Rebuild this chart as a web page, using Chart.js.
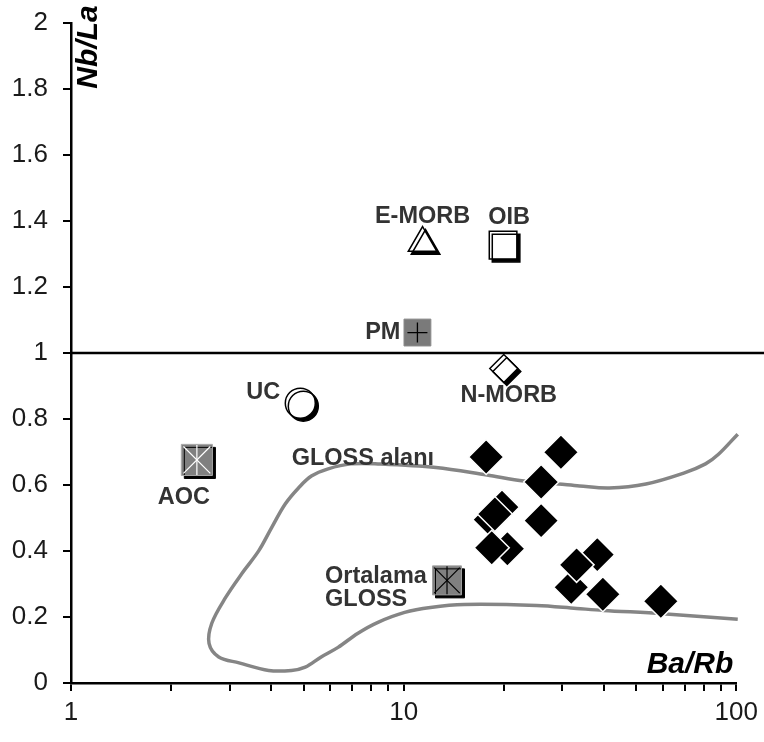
<!DOCTYPE html>
<html><head><meta charset="utf-8">
<script src="https://cdn.jsdelivr.net/npm/chart.js@4/dist/chart.umd.min.js"></script>
<style>html,body{margin:0;padding:0;background:#fff}</style>
</head><body>
<canvas id="c" width="764" height="742"></canvas>
<script>
// ---- data ----
const xTickValues = [1,2,3,4,5,6,7,8,9,10,20,30,40,50,60,70,80,90,100];
const xTickLabels = [1, 10, 100];
const yTickStep = 0.2;

// samples (black diamonds): Ba/Rb, Nb/La
const sampleX = [17.7, 29.7, 25.9, 19.75, 18.2, 18.8, 25.9, 20.5, 18.4, 38.2, 31.9, 33.1, 39.7, 59.3];
const sampleY = [0.685, 0.699, 0.609, 0.533, 0.495, 0.512, 0.492, 0.407, 0.410, 0.389, 0.290, 0.358, 0.269, 0.248];

// reference reservoirs
const refNames = ['E-MORB', 'OIB', 'PM', 'N-MORB', 'UC', 'AOC', 'Ortalama GLOSS'];
const refX = [11.4, 19.9, 11.0, 20.0, 4.89, 2.39, 13.5];
const refY = [1.333, 1.327, 1.062, 0.953, 0.848, 0.676, 0.311];

// GLOSS field outline
const glossX = [101, 88.4, 80.8, 69.5, 53.5, 41.5, 33.8, 29.2, 23.0, 17.8, 12.5, 8.37, 6.95, 5.93, 5.28, 4.83, 4.41, 4.01, 3.67, 3.26, 2.92, 2.65, 2.60, 2.78, 3.20, 3.93, 4.60, 5.06, 5.65, 6.35, 7.29, 8.37, 10.07, 12.04, 15.2, 25.1, 33.1, 39.8, 60.1, 101];
const glossY = [0.754, 0.693, 0.664, 0.636, 0.603, 0.591, 0.597, 0.603, 0.612, 0.630, 0.653, 0.664, 0.664, 0.649, 0.627, 0.591, 0.543, 0.471, 0.401, 0.331, 0.260, 0.181, 0.120, 0.079, 0.061, 0.038, 0.038, 0.048, 0.079, 0.108, 0.151, 0.184, 0.214, 0.229, 0.238, 0.235, 0.226, 0.220, 0.210, 0.193];
const glossLabel = {text: 'GLOSS alanı', x: 7.54, y: 0.681};

// Nb/La = 1 reference line
const unityX = [1, 130];
const unityY = [1, 1];

// ---- build ----
const FONT = "'Liberation Sans', Arial, Helvetica, sans-serif";
const pts = (xs, ys) => xs.map((v, i) => ({x: v, y: ys[i]}));
const refPt = i => [{x: refX[i], y: refY[i]}];

function marker(i, style, extra) {
  return Object.assign({
    type: 'scatter', data: refPt(i), pointStyle: style,
    pointBackgroundColor: '#fff', pointBorderColor: '#000', pointBorderWidth: 1.5,
    order: 1, clip: false
  }, extra);
}

const datasets = [
  {type: 'line', data: pts(unityX, unityY), borderColor: '#000', borderWidth: 2.5, pointRadius: 0, clip: false, order: 10},
  {type: 'line', data: pts(glossX, glossY), borderColor: '#858585', borderWidth: 3.5, pointRadius: 0, tension: 0.35, clip: false, order: 9},
  // E-MORB
  marker(0, 'triangle', {pointRadius: 16.5, shadow: true}),
  // OIB
  marker(1, 'rect', {pointRadius: 19.5, shadow: true}),
  // PM
  marker(2, 'rect', {pointRadius: 19, pointBackgroundColor: '#7a7a7a', pointBorderColor: '#8c8c8c', pointBorderWidth: 1}),
  marker(2, 'cross', {pointRadius: 10, pointBorderColor: '#000', pointBorderWidth: 1.3, order: 0}),
  // N-MORB
  marker(3, 'rectRot', {pointRadius: 14, shadow: true}),
  // UC
  marker(4, 'circle', {pointRadius: 15, shadow: true}),
  // AOC
  marker(5, 'rect', {pointRadius: 22, pointBackgroundColor: '#808080', pointBorderColor: '#a8a8a8', pointBorderWidth: 1, shadow: true}),
  marker(5, 'crossRot', {pointRadius: 19, pointBorderColor: '#fff', pointBorderWidth: 1.2, order: 0}),
  marker(5, 'line', {pointRadius: 15, pointRotation: 90, pointBorderColor: '#fff', pointBorderWidth: 1.2, order: 0}),
  // Ortalama GLOSS
  marker(6, 'rect', {pointRadius: 20.5, pointBackgroundColor: '#808080', pointBorderColor: '#a0a0a0', pointBorderWidth: 1, shadow: true}),
  marker(6, 'crossRot', {pointRadius: 18, pointBorderColor: '#000', pointBorderWidth: 1.2, order: 0}),
  marker(6, 'line', {pointRadius: 14, pointRotation: 90, pointBorderColor: '#000', pointBorderWidth: 1.2, order: 0}),
  // samples
  {type: 'scatter', data: pts(sampleX, sampleY), pointStyle: 'rectRot', pointRadius: 17.5,
   pointBackgroundColor: '#000', pointBorderColor: '#fff', pointBorderWidth: 1.5, order: 2, clip: false}
];

const labelSpecs = [
  {i: 0, text: 'E-MORB', dx: 0, dy: -27, align: 'center'},
  {i: 1, text: 'OIB', dx: 6, dy: -28, align: 'center'},
  {i: 2, text: 'PM', dx: -17, dy: 0, align: 'right'},
  {i: 3, text: 'N-MORB', dx: 5, dy: 27, align: 'center'},
  {i: 4, text: 'UC', dx: -20, dy: -11, align: 'right'},
  {i: 5, text: 'AOC', dx: -13, dy: 38, align: 'center'},
  {i: 6, text: 'Ortalama', dx: -122, dy: -4, align: 'left'},
  {i: 6, text: 'GLOSS', dx: -122, dy: 19, align: 'left'}
];

const shadowPlugin = {
  id: 'shadow',
  beforeDatasetDraw(chart, args) {
    const ds = chart.data.datasets[args.index];
    if (ds.shadow) {
      const ctx = chart.ctx;
      ctx.save();
      ctx.shadowColor = '#000';
      ctx.shadowOffsetX = 3;
      ctx.shadowOffsetY = 3;
      ctx.shadowBlur = 0;
    }
  },
  afterDatasetDraw(chart, args) {
    const ds = chart.data.datasets[args.index];
    if (ds.shadow) chart.ctx.restore();
  }
};

const labelPlugin = {
  id: 'labels',
  afterDatasetsDraw(chart) {
    const {ctx, chartArea} = chart;
    const xs = chart.scales.x, ys = chart.scales.y;
    ctx.save();
    ctx.fillStyle = '#333';
    ctx.font = 'bold 23.5px ' + FONT;
    ctx.textBaseline = 'middle';
    labelSpecs.forEach(s => {
      ctx.textAlign = s.align;
      ctx.fillText(s.text, xs.getPixelForValue(refX[s.i]) + s.dx, ys.getPixelForValue(refY[s.i]) + s.dy);
    });
    ctx.textAlign = 'center';
    ctx.fillText(glossLabel.text, xs.getPixelForValue(glossLabel.x), ys.getPixelForValue(glossLabel.y));
    // axis titles (inside plot)
    ctx.fillStyle = '#000';
    ctx.font = 'italic bold 30px ' + FONT;
    ctx.textAlign = 'right';
    ctx.fillText('Ba/Rb', chartArea.right - 3, chartArea.bottom - 18);
    ctx.translate(chartArea.left + 18, 47);
    ctx.rotate(-Math.PI / 2);
    ctx.textAlign = 'center';
    ctx.fillText('Nb/La', 0, 0);
    ctx.restore();
  }
};

const gridCfg = {drawOnChartArea: false, drawTicks: true, tickLength: 8, color: '#000', lineWidth: 2};

new Chart(document.getElementById('c'), {
  data: {datasets},
  options: {
    responsive: false, animation: false, devicePixelRatio: 1,
    layout: {padding: {top: 11, right: 24, left: 0, bottom: 0}},
    plugins: {legend: {display: false}, tooltip: {enabled: false}},
    scales: {
      x: {
        type: 'logarithmic', min: 1, max: 100,
        afterBuildTicks(s) { s.ticks = xTickValues.map(v => ({value: v})); },
        afterFit(s) { s.height = 59; },
        ticks: {
          autoSkip: false, maxRotation: 0, padding: 6, color: '#1a1a1a',
          font: {size: 26, family: FONT},
          callback: v => xTickLabels.includes(v) ? String(v) : ''
        },
        grid: gridCfg,
        border: {display: true, color: '#000', width: 2.5}
      },
      y: {
        type: 'linear', min: 0, max: 2,
        afterFit(s) { s.width = 71; },
        ticks: {
          stepSize: yTickStep, padding: 15, color: '#1a1a1a',
          font: {size: 26, family: FONT, lineHeight: 0.6},
          callback: v => String(Math.round(v * 10) / 10)
        },
        grid: gridCfg,
        border: {display: true, color: '#000', width: 2.5}
      }
    }
  },
  plugins: [shadowPlugin, labelPlugin]
});
</script>
</body></html>
